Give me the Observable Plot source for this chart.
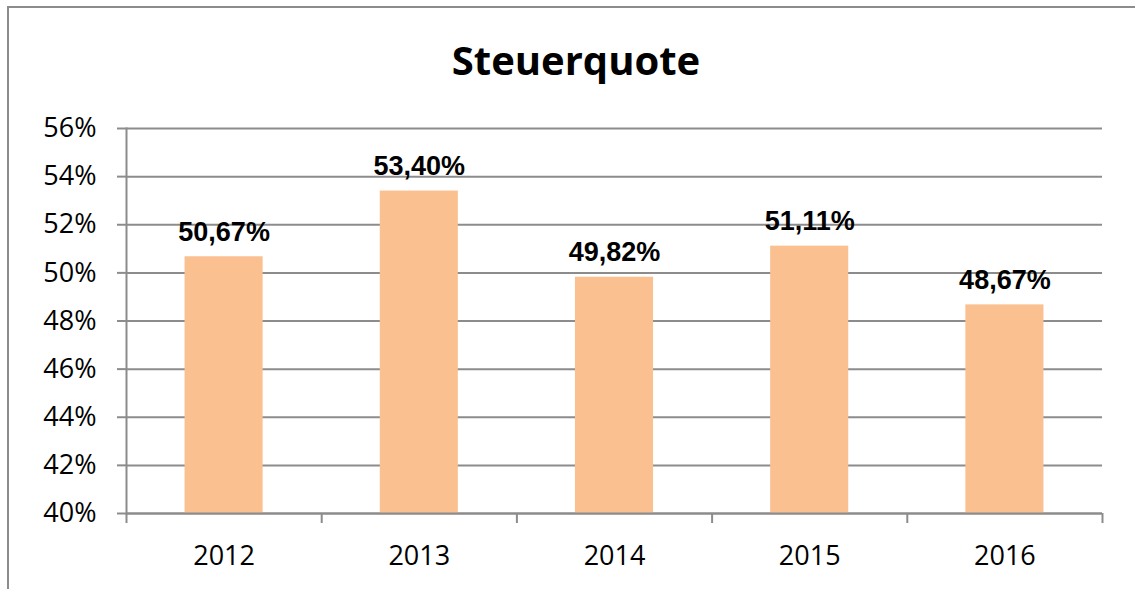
<!DOCTYPE html>
<html><head><meta charset="utf-8">
<script src="https://cdn.jsdelivr.net/npm/d3@7"></script>
<script src="https://cdn.jsdelivr.net/npm/@observablehq/plot@0.6"></script>
<style>
body{margin:0;background:#fff}
#wrap{position:relative;width:1135px;height:589px;overflow:hidden;background:#fff}
#border{position:absolute;left:7px;top:6px;width:1300px;height:800px;border:2px solid #8c8c8c;box-sizing:border-box}
#title{position:absolute;left:0;top:35px;width:1152px;text-align:center;font-family:"Open Sans",sans-serif;font-weight:bold;font-size:40px;line-height:50px;color:#000}
#chart{position:absolute;left:0;top:100px}
</style></head>
<body>
<div id="wrap">
  <div id="border"></div>
  <div id="title">Steuerquote</div>
  <div id="chart"></div>
</div>
<script>
const years = ["2012", "2013", "2014", "2015", "2016"];
const quote = [50.67, 53.40, 49.82, 51.11, 48.67];
const yTicks = [40, 42, 44, 46, 48, 50, 52, 54, 56];

const data = years.map((year, i) => ({year, i, value: quote[i]}));
const gray = "#8c8c8c";
const fmt = v => v.toFixed(2).replace(".", ",") + "%";

const chart = Plot.plot({
  width: 1135,
  height: 489,
  marginLeft: 126,
  marginRight: 33,
  marginTop: 28,
  marginBottom: 76,
  style: {fontFamily: "'Open Sans', sans-serif", background: "transparent"},
  x: {type: "linear", domain: [0, years.length]},
  y: {domain: [yTicks[0], yTicks[yTicks.length - 1]]},
  marks: [
    Plot.gridY(yTicks, {stroke: gray, strokeOpacity: 1, strokeWidth: 2}),
    Plot.axisY(yTicks, {label: null, tickSize: 9, tickPadding: 21, tickFormat: d => d + "%", fontSize: 27, stroke: gray, strokeWidth: 2, fill: "#000"}),
    Plot.frame({anchor: "left", stroke: gray, strokeWidth: 2}),
    Plot.rectY(data, {x1: d => d.i + 0.3, x2: d => d.i + 0.7, y1: yTicks[0], y2: "value", fill: "#FAC090"}),
    Plot.ruleY([yTicks[0]], {stroke: gray, strokeWidth: 2}),
    Plot.axisX(d3.range(years.length + 1), {label: null, tickSize: 10, tickFormat: () => "", stroke: gray, strokeWidth: 2}),
    Plot.axisX(data.map(d => d.i + 0.5), {label: null, tickSize: 0, tickPadding: 32, tickFormat: d => years[Math.floor(d)], fontSize: 27, fill: "#000"}),
    Plot.text(data, {x: d => d.i + 0.5, y: "value", text: d => fmt(d.value), dy: -16, lineAnchor: "bottom", fontSize: 27, fontWeight: "bold", fontFamily: "'Liberation Sans', Arial, sans-serif", fill: "#000"})
  ]
});
document.getElementById("chart").appendChild(chart);
</script>
</body></html>
